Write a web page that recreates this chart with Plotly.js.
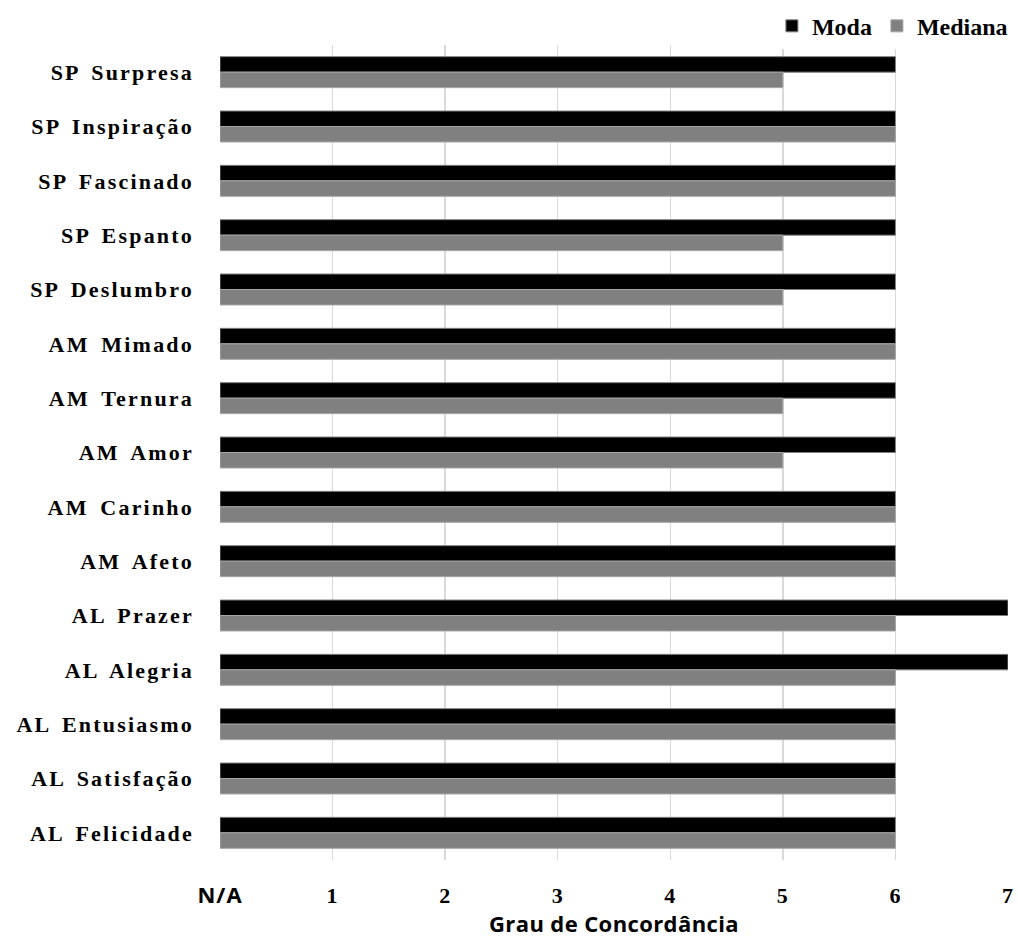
<!DOCTYPE html>
<html>
<head>
<meta charset="utf-8">
<script src="https://cdn.plot.ly/plotly-3.0.1.min.js"></script>
<style>
html,body{margin:0;padding:0;background:#fff;}
#chart .ytick text{letter-spacing:2.2px; word-spacing:4px;}
#chart .xtick text{letter-spacing:1px;}
#chart .g-xtitle text{letter-spacing:0.4px;}
</style>
</head>
<body>
<div id="chart" style="width:1018px;height:938px;"></div>
<script>
const categories = ["SP Surpresa","SP Inspiração","SP Fascinado","SP Espanto","SP Deslumbro","AM Mimado","AM Ternura","AM Amor","AM Carinho","AM Afeto","AL Prazer","AL Alegria","AL Entusiasmo","AL Satisfação","AL Felicidade"];
const moda =    [6,6,6,6,6,6,6,6,6,6,7,7,6,6,6];
const mediana = [5,6,6,5,5,6,5,5,6,6,6,6,6,6,6];
const tickVals = [0,1,2,3,4,5,6,7];
const tickLabels = ['<span style="font-family:\'Open Sans\'">N/A</span>',"1","2","3","4","5","6","7"];

const serif = "Liberation Serif, Times New Roman, serif";
const sans = "Open Sans, Liberation Sans, sans-serif";
const traces = [
  {type:"bar", orientation:"h", name:"Moda", y:categories, x:moda,
   marker:{color:"#000000", line:{color:"#7f7f7f", width:1}}},
  {type:"bar", orientation:"h", name:"Mediana", y:categories, x:mediana,
   marker:{color:"#808080", line:{color:"#a6a6a6", width:1}}}
];
const layout = {
  width:1018, height:938,
  margin:{l:220, r:10, t:45, b:78, autoexpand:false},
  paper_bgcolor:"#fff", plot_bgcolor:"#fff",
  barmode:"group", bargap:0.43, bargroupgap:0,
  font:{family:serif, color:"#000", weight:"bold"},
  xaxis:{range:[0,7], tickvals:tickVals, ticktext:tickLabels,
    showgrid:true, gridcolor:"#d9d9d9", gridwidth:1.5, zeroline:false,
    showline:false, ticks:"", tickfont:{family:serif, size:22, weight:"bold"},
    ticklabelstandoff:20,
    title:{text:"Grau de Concordância", font:{family:sans, size:22, weight:"bold"}, standoff:7}},
  yaxis:{type:"category", autorange:"reversed", showgrid:false, zeroline:false, showline:false, ticks:"",
    tickfont:{family:serif, size:22, weight:"bold"}, ticklabelstandoff:25},
  legend:{orientation:"h", xref:"container", yref:"container", x:0.995, xanchor:"right", y:0.972, yanchor:"middle",
    font:{family:serif, size:24, weight:"bold"}, itemwidth:30, tracegroupgap:0, itemclick:false},
  showlegend:true
};
Plotly.newPlot("chart", traces, layout, {displayModeBar:false, staticPlot:true});
</script>
</body>
</html>
